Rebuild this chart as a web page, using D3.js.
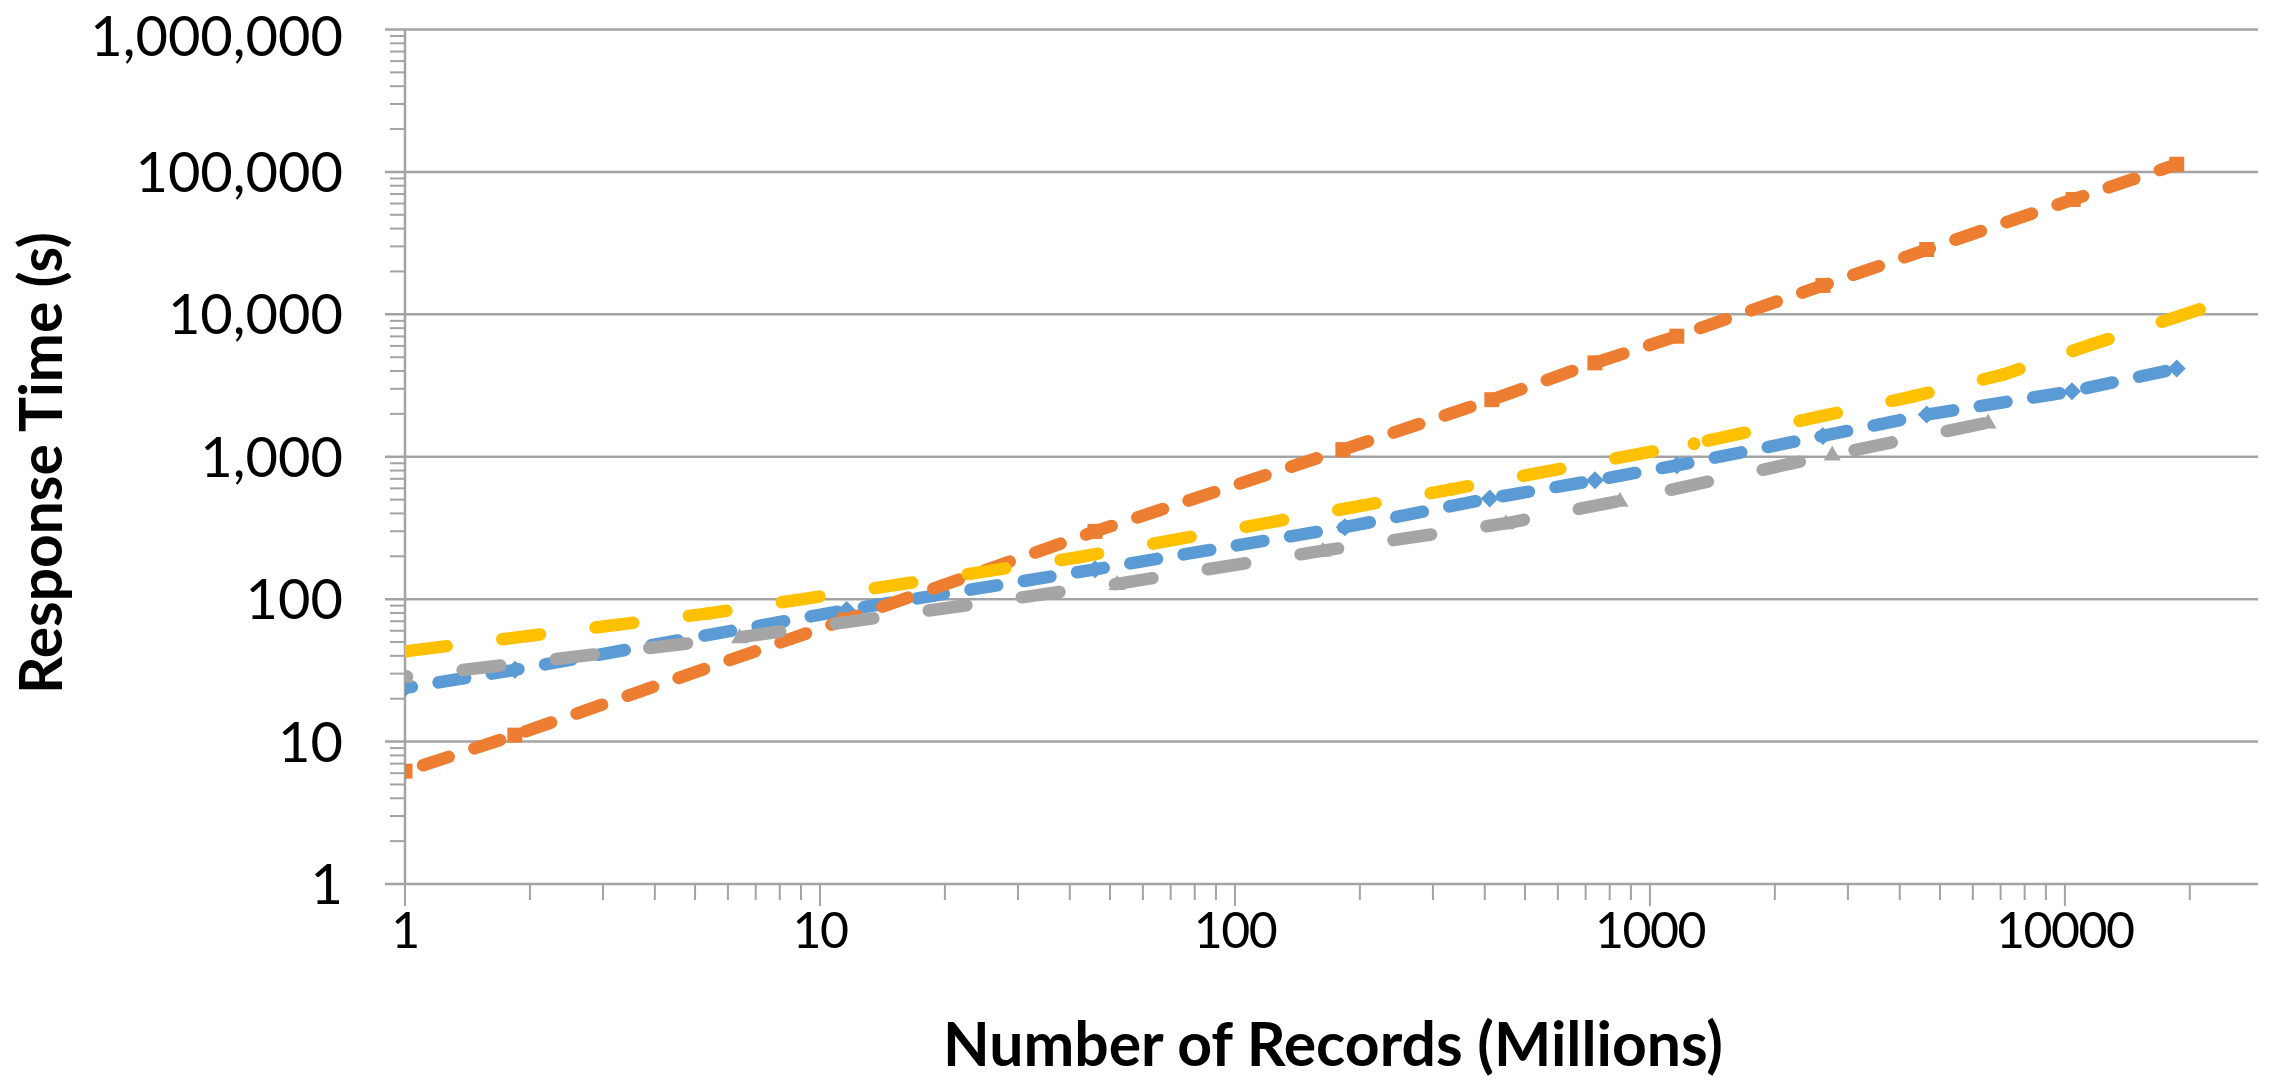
<!DOCTYPE html>
<html>
<head>
    <meta charset="utf-8">
    <title>Response Time vs Number of Records</title>
    <script src="https://d3js.org/d3.v7.min.js"></script>
    <style>
        body { margin: 0; background: #ffffff; }
        svg { display: block; }
        text { font-family: Lato, "Open Sans", sans-serif; }
    </style>
</head>
<body>
<svg width="2277" height="1084" id="mainSvg"></svg>
<script>
    // axis ticks
    const xTicks = [1, 10, 100, 1000, 10000];
    const yTicks = [1, 10, 100, 1000, 10000, 100000, 1000000];

    // series values (x: millions of records, y: seconds)
    const orangeX = [1, 1.84, 11.5, 46, 182, 416, 737, 1161, 2612, 4645, 10470, 18600];
    const orangeY = [6.2, 11.1, 71.6, 299, 1122, 2516, 4565, 7020, 15950, 28500, 64100, 113000];
    const blueX = [1, 1.84, 11.6, 46, 184, 411, 737, 1161, 2612, 4645, 10400, 18600];
    const blueY = [23.8, 31.9, 84, 162, 320, 510, 683, 870, 1400, 1977, 2880, 4160];
    const grayX = [1, 6.4, 52, 163, 450, 847, 2750, 6530];
    const grayY = [28.5, 54, 128, 219, 341, 490, 1035, 1738];
    const yellowX = [1, 5.4, 42, 330, 1277, 4280, 7100, 11600, 21100];
    const yellowY = [43, 79.5, 197, 588, 1236, 2642, 3776, 6140, 10800];

    const xAxisLabelText = 'Number of Records (Millions)';
    const yAxisLabelText = 'Response Time (s)';

    const series = [
        { xs: blueX, ys: blueY, color: '#5B9BD5', marker: 'diamond', dash: '27 27', offset: -34 },
        { xs: orangeX, ys: orangeY, color: '#ED7D31', marker: 'square', dash: '27 27', offset: -19 },
        { xs: grayX, ys: grayY, color: '#A5A5A5', marker: 'triangle', dash: '38 56', offset: -58 },
        { xs: yellowX, ys: yellowY, color: '#FFC000', marker: 'circle', dash: '38 56', offset: -4 }
    ];

    const mainSvg = d3.select('#mainSvg');
    const mainWidth = +mainSvg.attr('width');
    const mainHeight = +mainSvg.attr('height');

    const margin = { top: 29.5, right: 19, bottom: 200, left: 405 };

    // log scales in page coordinates; the x axis runs a little past 20000
    const xScale = d3.scaleLog().domain([1, 29200]).range([margin.left, mainWidth - margin.right]);
    const yScale = d3.scaleLog().domain([1, 1000000]).range([mainHeight - margin.bottom, margin.top]);
    const x0 = xScale.range()[0], x1 = xScale.range()[1];
    const yBottom = yScale.range()[0], yTop = yScale.range()[1];

    const axisColor = '#a3a3a3';

    // minor tick values 2..9 inside each decade
    const yMinor = [];
    yTicks.slice(0, -1).forEach(d => { for (let k = 2; k <= 9; k++) yMinor.push(d * k); });
    const xMinor = [];
    xTicks.forEach(d => { for (let k = 2; k <= 9; k++) if (d * k < 29200) xMinor.push(d * k); });

    const grid = mainSvg.append('g').attr('stroke', axisColor);

    // horizontal gridlines and major y ticks
    grid.selectAll('.gridline').data(yTicks).join('line')
        .attr('class', 'gridline')
        .attr('x1', x0 - 20).attr('x2', x1)
        .attr('y1', d => yScale(d)).attr('y2', d => yScale(d))
        .attr('stroke-width', 2.5);

    // minor ticks
    grid.selectAll('.yminor').data(yMinor).join('line')
        .attr('class', 'yminor')
        .attr('x1', x0 - 15).attr('x2', x0)
        .attr('y1', d => yScale(d)).attr('y2', d => yScale(d))
        .attr('stroke-width', 2);
    grid.selectAll('.xminor').data(xMinor).join('line')
        .attr('class', 'xminor')
        .attr('x1', d => xScale(d)).attr('x2', d => xScale(d))
        .attr('y1', yBottom).attr('y2', yBottom + 16)
        .attr('stroke-width', 2);
    grid.selectAll('.xmajor').data(xTicks).join('line')
        .attr('class', 'xmajor')
        .attr('x1', d => xScale(d)).attr('x2', d => xScale(d))
        .attr('y1', yBottom).attr('y2', yBottom + 22)
        .attr('stroke-width', 2);

    // axis lines
    grid.append('line')
        .attr('x1', x0).attr('x2', x0).attr('y1', yTop).attr('y2', yBottom)
        .attr('stroke-width', 2.5);

    // tick labels (the top one is nudged down so its box stays on the page)
    mainSvg.append('g').selectAll('text').data(yTicks).join('text')
        .attr('x', x0 - 62)
        .attr('y', d => Math.max(yScale(d) + 20, 55.5))
        .attr('text-anchor', 'end')
        .attr('font-size', 56).attr('fill', '#000')
        .text(d3.format(','));

    mainSvg.append('g').selectAll('text').data(xTicks).join('text')
        .attr('x', d => xScale(d))
        .attr('y', yBottom + 64)
        .attr('text-anchor', 'middle')
        .attr('font-size', 50).attr('fill', '#000')
        .attr('letter-spacing', -1.5)
        .text(d3.format('d'));

    // axis titles, sized to the widths they take in the picture
    const fitText = (sel, target) => {
        const len = sel.node().getComputedTextLength();
        sel.attr('font-size', 54 * target / len);
    };

    const xTitle = mainSvg.append('text')
        .attr('x', 1333).attr('y', 1066)
        .attr('text-anchor', 'middle')
        .attr('font-size', 54).attr('font-weight', 'bold').attr('fill', '#000')
        .text(xAxisLabelText);
    fitText(xTitle, 780);

    const yTitle = mainSvg.append('text')
        .attr('transform', 'translate(62, 463) rotate(-90)')
        .attr('text-anchor', 'middle')
        .attr('font-size', 54).attr('font-weight', 'bold').attr('fill', '#000')
        .text(yAxisLabelText);
    fitText(yTitle, 462);

    // clip the series to the plot area
    mainSvg.append('defs').append('clipPath').attr('id', 'plotClip')
        .append('rect')
        .attr('x', x0).attr('y', yTop)
        .attr('width', x1 - x0).attr('height', yBottom - yTop);

    const plot = mainSvg.append('g').attr('clip-path', 'url(#plotClip)');

    const line = d3.line()
        .x(d => xScale(d[0]))
        .y(d => yScale(d[1]));

    const markerPath = {
        square: 'M-7.5,-7.5H7.5V7.5H-7.5Z',
        diamond: 'M0,-9L9,0L0,9L-9,0Z',
        triangle: 'M0,-9L8.5,6L-8.5,6Z',
        circle: 'M6.5,0A6.5,6.5,0,1,1,-6.5,0A6.5,6.5,0,1,1,6.5,0Z'
    };

    series.forEach(s => {
        const pts = d3.zip(s.xs, s.ys);

        plot.append('path')
            .datum(pts)
            .attr('d', line)
            .attr('fill', 'none')
            .attr('stroke', s.color)
            .attr('stroke-width', 12.5)
            .attr('stroke-linecap', 'round')
            .attr('stroke-linejoin', 'round')
            .attr('stroke-dasharray', s.dash)
            .attr('stroke-dashoffset', s.offset);

        plot.append('g').selectAll('path').data(pts).join('path')
            .attr('transform', d => `translate(${xScale(d[0])}, ${yScale(d[1])})`)
            .attr('d', markerPath[s.marker])
            .attr('fill', s.color);
    });
</script>
</body>
</html>
